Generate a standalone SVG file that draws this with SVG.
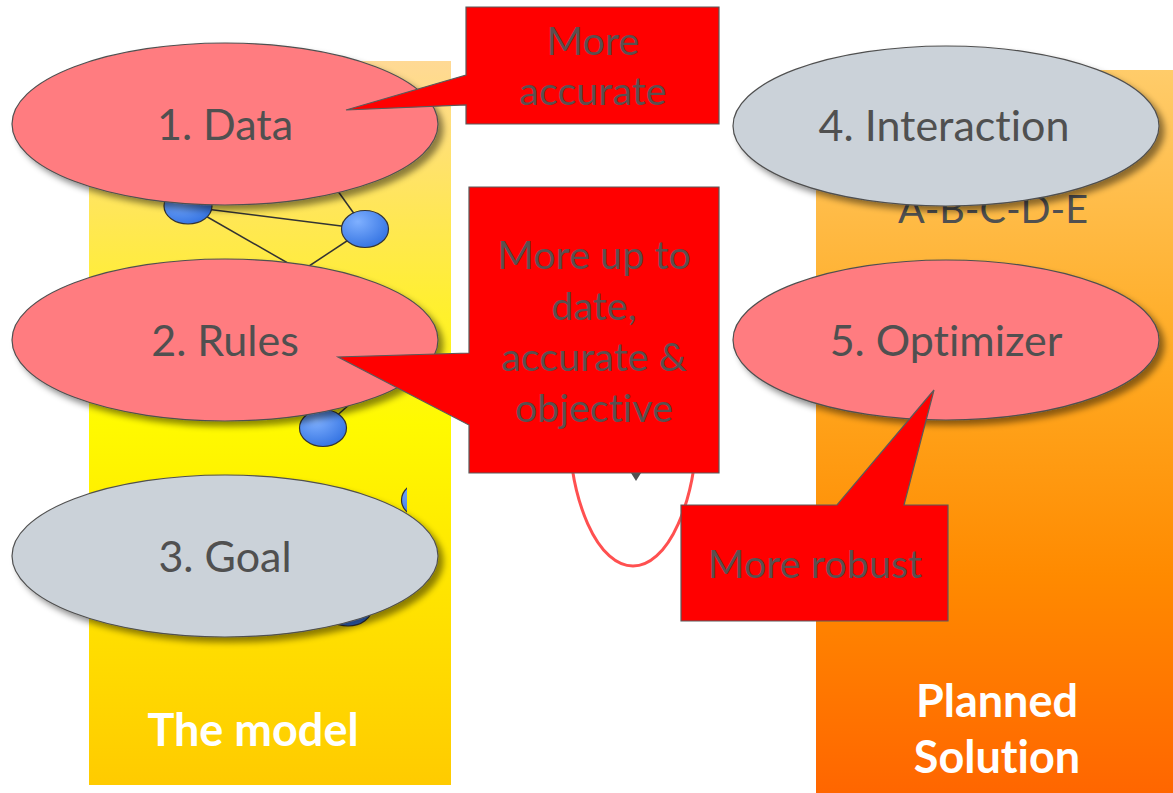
<svg xmlns="http://www.w3.org/2000/svg" width="1173" height="793" viewBox="0 0 1173 793">
<defs>
<linearGradient id="gLeft" x1="0" y1="0" x2="0" y2="1">
<stop offset="0" stop-color="#FFD995"/>
<stop offset="0.2" stop-color="#FFE65A"/>
<stop offset="0.5" stop-color="#FFFA00"/>
<stop offset="1" stop-color="#FFCB00"/>
</linearGradient>
<linearGradient id="gRight" x1="0" y1="0" x2="0" y2="1">
<stop offset="0" stop-color="#FFCC6A"/>
<stop offset="0.4" stop-color="#FFAA22"/>
<stop offset="0.7" stop-color="#FF8A00"/>
<stop offset="1" stop-color="#FF6600"/>
</linearGradient>
<radialGradient id="gNode" cx="0.35" cy="0.3" r="0.8">
<stop offset="0" stop-color="#7FB0FF"/>
<stop offset="1" stop-color="#2F6FE0"/>
</radialGradient>
<filter id="shadow" x="-10%" y="-10%" width="125%" height="135%">
<feDropShadow dx="5" dy="5" stdDeviation="3" flood-color="#000" flood-opacity="0.45"/>
</filter>
<clipPath id="clipD"><rect x="380" y="470" width="27" height="60"/></clipPath>
</defs>
<style>
text{font-variant-ligatures:none}
.oval{stroke:#505050;stroke-width:1.2;filter:url(#shadow)}
.pink{fill:#FF7C80}
.gray{fill:#CBD2D9}
.lbl{font-family:Lato,"Open Sans",sans-serif;font-size:43px;fill:#505050;text-anchor:middle}
.call{fill:#FF0000;stroke:#5a5a5a;stroke-width:1.2}
.ctext{font-family:Lato,"Open Sans",sans-serif;font-size:39.5px;fill:#5a5050;text-anchor:middle}
.ptitle{font-family:Lato,"Open Sans",sans-serif;font-size:45px;font-weight:bold;fill:#FFFFFF;text-anchor:middle}
.node{fill:url(#gNode);stroke:#333;stroke-width:1.2}
.edge{stroke:#333;stroke-width:1.5}
</style>

<g id="panel-model">
<rect x="89" y="61" width="362" height="724" fill="url(#gLeft)"/>
<text class="ptitle" x="253" y="746">The model</text>
</g>
<g id="panel-solution">
<rect x="816" y="70" width="357" height="723" fill="url(#gRight)"/>
<text class="ptitle" x="997" y="717">Planned</text>
<text class="ptitle" x="997" y="773">Solution</text>
<text x="993" y="223" font-family="Lato,'Open Sans',sans-serif" font-size="39.5" fill="#505050" text-anchor="middle">A-B-C-D-E</text>
</g>

<g id="connectors">
<line class="edge" x1="190" y1="207" x2="365" y2="229"/>
<line class="edge" x1="190" y1="207" x2="300" y2="270"/>
<line class="edge" x1="365" y1="229" x2="300" y2="272"/>
<line class="edge" x1="365" y1="229" x2="330" y2="180"/>
<line class="edge" x1="323" y1="428" x2="360" y2="395"/>
</g>

<g id="graph-nodes">
<ellipse class="node" cx="188" cy="206" rx="24" ry="18"/>
<ellipse class="node" cx="365" cy="229" rx="23.5" ry="18.5"/>
<ellipse class="node" cx="323" cy="428" rx="23.5" ry="18.5"/>
<ellipse class="node" cx="425" cy="500" rx="23.5" ry="18.5" clip-path="url(#clipD)"/>
<ellipse class="node" cx="348" cy="608" rx="24" ry="18"/>
</g>

<g id="loop">
<ellipse cx="633" cy="422" rx="64" ry="144" fill="none" stroke="#FF5050" stroke-width="3"/>
<polygon points="631,473 641,473 636,481" fill="#505050"/>
</g>

<g id="node-data">
<ellipse class="oval pink" cx="225" cy="124" rx="213" ry="81"/>
<text class="lbl" x="225" y="140">1. Data</text>
</g>
<g id="node-rules">
<ellipse class="oval pink" cx="225" cy="340" rx="213" ry="81"/>
<text class="lbl" x="225" y="356">2. Rules</text>
</g>
<g id="node-goal">
<ellipse class="oval gray" cx="225" cy="556" rx="213" ry="81"/>
<text class="lbl" x="225" y="572">3. Goal</text>
</g>
<g id="node-interaction">
<ellipse class="oval gray" cx="946" cy="126" rx="213" ry="80"/>
<text class="lbl" x="944" y="141">4. Interaction</text>
</g>
<g id="node-optimizer">
<ellipse class="oval pink" cx="946" cy="340" rx="213" ry="80"/>
<text class="lbl" x="946" y="356">5. Optimizer</text>
</g>

<g id="callout-accurate">
<path class="call" d="M466,7 H719 V124 H466 V105 L346,110 L466,75 Z"/>
<text class="ctext" x="593" y="55">More</text>
<text class="ctext" x="593" y="105">accurate</text>
</g>
<g id="callout-uptodate">
<path class="call" d="M469,187 H719 V473 H469 V425 L338,357 L469,353 Z"/>
<text class="ctext" x="594" y="269">More up to</text>
<text class="ctext" x="594" y="320">date,</text>
<text class="ctext" x="594" y="371">accurate &amp;</text>
<text class="ctext" x="594" y="422">objective</text>
</g>
<g id="callout-robust">
<path class="call" d="M681,505 H837 L934,390 L904,505 H948 V621 H681 Z"/>
<text class="ctext" x="815" y="578">More robust</text>
</g>
</svg>
